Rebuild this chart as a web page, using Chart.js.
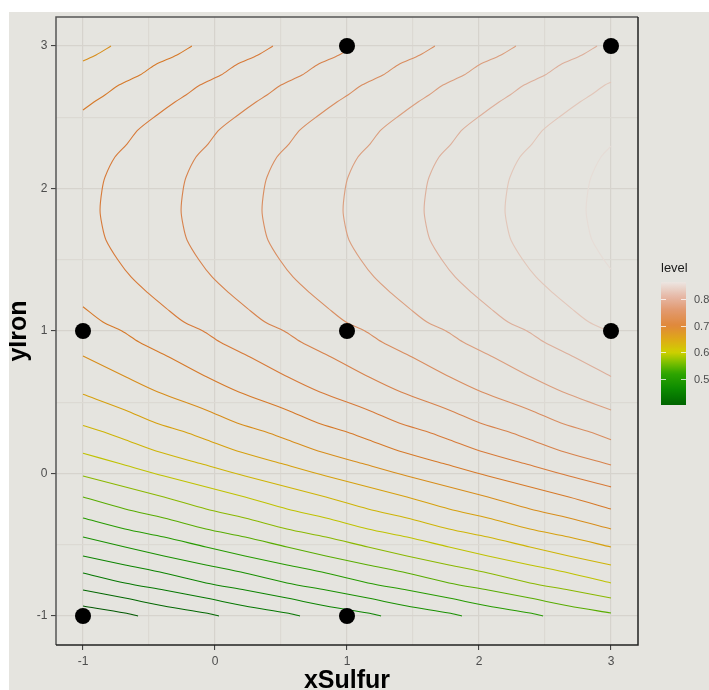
<!DOCTYPE html>
<html>
<head>
<meta charset="utf-8">
<script src="https://cdn.jsdelivr.net/npm/chart.js"></script>
<style>
  html, body { margin: 0; padding: 0; background: #fff; }
  #wrap { position: absolute; left: 9px; top: 12px; width: 700px; height: 678px; background: #e5e4df; }
</style>
</head>
<body>
<div id="wrap"><canvas id="contourChart" width="700" height="678"></canvas></div>
<script>
// design points (black dots)
const designX = [-1, 1, -1, 1, 3, 1, 3];
const designY = [-1, -1, 1, 1, 1, 3, 3];

// axis ticks
const xTicks = [-1, -0.5, 0, 0.5, 1, 1.5, 2, 2.5, 3];
const yTicks = [-1, -0.5, 0, 0.5, 1, 1.5, 2, 2.5, 3];
const legendTicks = [0.5, 0.6, 0.7, 0.8];

// contour levels, low to high
const contourLevels = [0.400, 0.424, 0.449, 0.473, 0.498, 0.522, 0.547, 0.571, 0.596, 0.620,
                       0.645, 0.669, 0.694, 0.718, 0.743, 0.767, 0.792, 0.816, 0.841, 0.865];

// contour paths, [xSulfur, yIron]
const c01 = [[-1,-0.930],[-0.682,-0.979],[-0.583,-1.0]];
const c02 = [[-1,-0.818],[-0.682,-0.874],[-0.387,-0.930],[-0.069,-0.979],[0.030,-1.0]];
const c03 = [[-1,-0.698],[-0.682,-0.768],[-0.386,-0.818],[-0.068,-0.874],[0.227,-0.930],[0.545,-0.979],[0.644,-1.0]];
const c04 = [[-1,-0.579],[-0.681,-0.642],[-0.386,-0.698],[-0.068,-0.768],[0.228,-0.818],[0.546,-0.874],[0.841,-0.930],[1.159,-0.979],[1.258,-1.0]];
const c05 = [[-1,-0.446],[-0.682,-0.516],[-0.387,-0.579],[-0.068,-0.642],[0.227,-0.698],[0.545,-0.768],[0.841,-0.818],[1.159,-0.874],[1.454,-0.930],[1.772,-0.979],[1.871,-1.0]];
const c06 = [[-1,-0.312],[-0.682,-0.389],[-0.386,-0.446],[-0.068,-0.516],[0.227,-0.579],[0.546,-0.642],[0.841,-0.698],[1.159,-0.768],[1.455,-0.818],[1.773,-0.874],[2.068,-0.930],[2.386,-0.979],[2.485,-1.0]];
const c07 = [[-1,-0.165],[-0.681,-0.249],[-0.386,-0.312],[-0.068,-0.389],[0.228,-0.446],[0.546,-0.516],[0.841,-0.579],[1.160,-0.642],[1.455,-0.698],[1.773,-0.768],[2.069,-0.818],[2.387,-0.874],[2.682,-0.930],[3.0,-0.979]];
const c08 = [[-1,-0.018],[-0.387,-0.165],[-0.068,-0.249],[0.227,-0.312],[0.545,-0.389],[0.841,-0.446],[1.159,-0.516],[1.454,-0.579],[1.773,-0.642],[2.068,-0.698],[2.386,-0.768],[2.682,-0.818],[3.0,-0.874]];
const c09 = [[-1,0.142],[-0.723,0.070],[-0.386,-0.018],[0.227,-0.165],[0.546,-0.249],[0.841,-0.312],[1.159,-0.389],[1.455,-0.446],[1.773,-0.516],[2.068,-0.579],[2.387,-0.642],[2.682,-0.698],[3.0,-0.768]];
const c10 = [[-1,0.337],[-0.841,0.291],[-0.675,0.235],[-0.447,0.158],[-0.110,0.070],[0.227,-0.018],[0.840,-0.165],[1.159,-0.249],[1.454,-0.312],[1.772,-0.389],[2.068,-0.446],[2.386,-0.516],[2.681,-0.579],[3.0,-0.642]];
const c11 = [[-1,0.556],[-0.682,0.446],[-0.447,0.354],[-0.227,0.291],[-0.061,0.235],[0.167,0.158],[0.504,0.070],[0.841,-0.018],[1.454,-0.165],[1.773,-0.249],[2.068,-0.312],[2.386,-0.389],[2.682,-0.446],[3.0,-0.516]];
const c12top = [[-0.788,3.0],[-0.901,2.937],[-1,2.895]];
const c12 = [[-1,0.825],[-0.674,0.677],[-0.432,0.572],[-0.068,0.446],[0.167,0.354],[0.387,0.291],[0.553,0.235],[0.781,0.158],[1.118,0.070],[1.455,-0.018],[2.068,-0.165],[2.387,-0.249],[2.682,-0.312],[3.0,-0.389]];
const c13top = [[-0.175,3.0],[-0.288,2.937],[-0.455,2.867],[-0.569,2.796],[-0.728,2.726],[-0.834,2.656],[-0.917,2.607],[-1,2.551]];
const c13 = [[-1,1.170],[-0.849,1.063],[-0.705,1.0],[-0.576,0.923],[-0.349,0.818],[-0.061,0.677],[0.181,0.572],[0.545,0.446],[0.780,0.354],[1.0,0.291],[1.166,0.235],[1.394,0.158],[1.731,0.070],[2.068,-0.018],[2.681,-0.165],[3.0,-0.249]];
const c14 = [[0.439,3.0],[0.326,2.937],[0.159,2.867],[0.045,2.796],[-0.114,2.726],[-0.220,2.656],[-0.303,2.607],[-0.439,2.516],[-0.583,2.411],[-0.667,2.312],[-0.758,2.221],[-0.833,2.081],[-0.856,1.989],[-0.871,1.849],[-0.856,1.744],[-0.826,1.639],[-0.735,1.498],[-0.636,1.379],[-0.508,1.267],[-0.371,1.161],[-0.235,1.063],[-0.091,1.0],[0.038,0.923],[0.265,0.818],[0.553,0.677],[0.795,0.572],[1.159,0.446],[1.394,0.354],[1.614,0.291],[1.780,0.235],[2.008,0.158],[2.345,0.070],[2.682,-0.018],[3.0,-0.094]];
const c15 = [[1.053,3.0],[0.940,2.937],[0.773,2.867],[0.659,2.796],[0.500,2.726],[0.394,2.656],[0.311,2.607],[0.175,2.516],[0.031,2.411],[-0.053,2.312],[-0.144,2.221],[-0.219,2.081],[-0.242,1.989],[-0.257,1.849],[-0.242,1.744],[-0.212,1.639],[-0.121,1.498],[-0.022,1.379],[0.106,1.267],[0.243,1.161],[0.379,1.063],[0.523,1.0],[0.652,0.923],[0.879,0.818],[1.167,0.677],[1.409,0.572],[1.773,0.446],[2.008,0.354],[2.228,0.291],[2.394,0.235],[2.622,0.158],[2.959,0.070],[3.0,0.059]];
const c16 = [[1.666,3.0],[1.553,2.937],[1.386,2.867],[1.272,2.796],[1.113,2.726],[1.007,2.656],[0.924,2.607],[0.788,2.516],[0.644,2.411],[0.560,2.312],[0.469,2.221],[0.394,2.081],[0.371,1.989],[0.356,1.849],[0.371,1.744],[0.401,1.639],[0.492,1.498],[0.591,1.379],[0.719,1.267],[0.856,1.161],[0.992,1.063],[1.136,1.0],[1.265,0.923],[1.492,0.818],[1.780,0.677],[2.022,0.572],[2.386,0.446],[2.621,0.354],[2.841,0.291],[3.0,0.237]];
const c17 = [[2.280,3.0],[2.167,2.937],[2.000,2.867],[1.886,2.796],[1.727,2.726],[1.621,2.656],[1.538,2.607],[1.402,2.516],[1.258,2.411],[1.174,2.312],[1.083,2.221],[1.008,2.081],[0.985,1.989],[0.970,1.849],[0.985,1.744],[1.015,1.639],[1.106,1.498],[1.205,1.379],[1.333,1.267],[1.470,1.161],[1.606,1.063],[1.750,1.0],[1.879,0.923],[2.106,0.818],[2.394,0.677],[2.636,0.572],[3.0,0.446]];
const c18 = [[2.894,3.0],[2.781,2.937],[2.614,2.867],[2.500,2.796],[2.341,2.726],[2.235,2.656],[2.152,2.607],[2.016,2.516],[1.872,2.411],[1.788,2.312],[1.697,2.221],[1.622,2.081],[1.599,1.989],[1.584,1.849],[1.599,1.744],[1.629,1.639],[1.720,1.498],[1.819,1.379],[1.947,1.267],[2.084,1.161],[2.220,1.063],[2.364,1.0],[2.493,0.923],[2.720,0.818],[3.0,0.681]];
const c19 = [[3.0,2.746],[2.954,2.726],[2.848,2.656],[2.765,2.607],[2.629,2.516],[2.485,2.411],[2.401,2.312],[2.310,2.221],[2.235,2.081],[2.212,1.989],[2.197,1.849],[2.212,1.744],[2.242,1.639],[2.333,1.498],[2.432,1.379],[2.560,1.267],[2.697,1.161],[2.833,1.063],[2.977,1.0],[3.0,0.986]];
const c20 = [[3.0,2.297],[2.924,2.221],[2.849,2.081],[2.826,1.989],[2.811,1.849],[2.826,1.744],[2.856,1.639],[2.947,1.498],[3.0,1.434]];

// which level each path belongs to
const contourPaths = [c01, c02, c03, c04, c05, c06, c07, c08, c09, c10, c11, c12top, c12, c13top, c13, c14, c15, c16, c17, c18, c19, c20];
const pathLevel = [0, 1, 2, 3, 4, 5, 6, 7, 8, 9, 10, 11, 11, 12, 12, 13, 14, 15, 16, 17, 18, 19];

// colour ramp for level (dark green -> yellow -> orange -> near white)
const colourStops = [0.400, 0.460, 0.520, 0.560, 0.600, 0.650, 0.700, 0.760, 0.810, 0.865];
const colourHex = ['#005800', '#067e00', '#229a00', '#72b400', '#c8c400', '#d89c10', '#d6742c', '#d88858', '#dcaa94', '#e6dcd6'];

const hexToRgb = h => [1, 3, 5].map(i => parseInt(h.slice(i, i + 2), 16));

function levelColour(v) {
  let i = 1;
  while (i < colourStops.length - 1 && v > colourStops[i]) i++;
  let t = (v - colourStops[i - 1]) / (colourStops[i] - colourStops[i - 1]);
  t = Math.max(0, Math.min(1, t));
  const a = hexToRgb(colourHex[i - 1]), b = hexToRgb(colourHex[i]);
  const c = a.map((ch, k) => Math.round(ch + (b[k] - ch) * t));
  return `rgb(${c[0]},${c[1]},${c[2]})`;
}

// the legend bar is a bit brighter than the thin lines
const barStops = [0.400, 0.460, 0.520, 0.560, 0.600, 0.650, 0.700, 0.760, 0.810, 0.865];
const barHex = ['#006400', '#0b8a00', '#2fa600', '#7cc000', '#d0d000', '#dfa818', '#e0883a', '#e29a70', '#e6b8a6', '#ece6e2'];

function barColour(v) {
  let i = 1;
  while (i < barStops.length - 1 && v > barStops[i]) i++;
  let t = (v - barStops[i - 1]) / (barStops[i] - barStops[i - 1]);
  t = Math.max(0, Math.min(1, t));
  const a = hexToRgb(barHex[i - 1]), b = hexToRgb(barHex[i]);
  const c = a.map((ch, k) => Math.round(ch + (b[k] - ch) * t));
  return `rgb(${c[0]},${c[1]},${c[2]})`;
}

const FONT = "'Liberation Sans', Arial, sans-serif";
Chart.defaults.font.family = FONT;

const isWhole = v => Math.abs(v - Math.round(v)) < 1e-9;

// panel border + colourbar legend
const extrasPlugin = {
  id: 'extras',
  afterDraw(chart) {
    const { ctx, chartArea: a } = chart;
    ctx.save();
    ctx.lineWidth = 1.5;
    ctx.strokeStyle = '#555';
    ctx.beginPath();
    ctx.moveTo(a.left, a.bottom); ctx.lineTo(a.left, a.top); ctx.lineTo(a.right, a.top);
    ctx.stroke();
    ctx.strokeStyle = '#222';
    ctx.beginPath();
    ctx.moveTo(a.right, a.top); ctx.lineTo(a.right, a.bottom); ctx.lineTo(a.left, a.bottom);
    ctx.stroke();

    // colourbar
    const lo = contourLevels[0], hi = contourLevels[contourLevels.length - 1];
    const bx = 652, by = 270, bw = 25, bh = 123;
    const grad = ctx.createLinearGradient(0, by + bh, 0, by);
    for (let i = 0; i <= 40; i++) grad.addColorStop(i / 40, barColour(lo + (hi - lo) * i / 40));
    ctx.fillStyle = grad;
    ctx.fillRect(bx, by, bw, bh);

    ctx.font = `13px ${FONT}`;
    ctx.fillStyle = '#1a1a1a';
    ctx.textAlign = 'left';
    ctx.textBaseline = 'middle';
    ctx.fillText('level', bx, 256);

    ctx.font = `11px ${FONT}`;
    ctx.fillStyle = '#4d4d4d';
    ctx.strokeStyle = 'rgba(255,255,255,0.75)';
    ctx.lineWidth = 1;
    legendTicks.forEach(v => {
      const y = Math.round(by + bh - (v - lo) / (hi - lo) * bh) + 0.5;
      ctx.beginPath();
      ctx.moveTo(bx, y); ctx.lineTo(bx + 5, y);
      ctx.moveTo(bx + bw - 5, y); ctx.lineTo(bx + bw, y);
      ctx.stroke();
      ctx.fillText(v.toFixed(1), 685, y);
    });
    ctx.restore();
  }
};

const datasets = [{
  type: 'scatter',
  data: designX.map((x, i) => ({ x, y: designY[i] })),
  backgroundColor: '#000',
  borderWidth: 0,
  pointRadius: 8,
  pointHoverRadius: 8,
  clip: false
}];

contourPaths.forEach((path, i) => {
  datasets.push({
    type: 'line',
    data: path.map(p => ({ x: p[0], y: p[1] })),
    borderColor: levelColour(contourLevels[pathLevel[i]]),
    borderWidth: 1.1,
    pointRadius: 0,
    tension: 0.3,
    fill: false
  });
});

const gridOpts = {
  color: c => isWhole(c.tick.value) ? '#d6d3cd' : '#dcd9d3',
  lineWidth: 1.2,
  tickColor: c => isWhole(c.tick.value) ? '#333' : 'rgba(0,0,0,0)',
  tickLength: 5,
  tickWidth: 1
};

new Chart(document.getElementById('contourChart'), {
  type: 'scatter',
  data: { datasets },
  plugins: [extrasPlugin],
  options: {
    responsive: false,
    animation: false,
    events: [],
    layout: { autoPadding: false, padding: { left: 0, top: 5, right: 71, bottom: 0 } },
    plugins: { legend: { display: false }, tooltip: { enabled: false } },
    scales: {
      x: {
        type: 'linear',
        min: -1.2045,
        max: 3.2045,
        bounds: 'data',
        afterBuildTicks: s => { s.ticks = xTicks.map(v => ({ value: v })); },
        afterFit: s => { s.height = 45; s.paddingLeft = 0; s.paddingRight = 0; },
        grid: gridOpts,
        border: { display: false },
        ticks: {
          autoSkip: false,
          maxRotation: 0,
          padding: 4,
          color: '#4d4d4d',
          font: { size: 12 },
          callback: v => isWhole(v) ? String(v) : ''
        },
        title: {
          display: true,
          text: 'xSulfur',
          color: '#000',
          font: { size: 25, weight: 'bold', lineHeight: 1 },
          padding: { top: 0, bottom: -4 }
        }
      },
      y: {
        type: 'linear',
        min: -1.2035,
        max: 3.2035,
        bounds: 'data',
        afterBuildTicks: s => { s.ticks = yTicks.map(v => ({ value: v })); },
        afterFit: s => { s.width = 47; s.paddingTop = 0; s.paddingBottom = 0; },
        grid: gridOpts,
        border: { display: false },
        ticks: {
          autoSkip: false,
          padding: 3.5,
          color: '#4d4d4d',
          font: { size: 12 },
          callback: v => isWhole(v) ? String(v) : ''
        },
        title: {
          display: true,
          text: 'yIron',
          color: '#000',
          font: { size: 25, weight: 'bold', lineHeight: 1 },
          padding: { top: -2.5, bottom: 0 }
        }
      }
    }
  }
});
</script>
</body>
</html>
